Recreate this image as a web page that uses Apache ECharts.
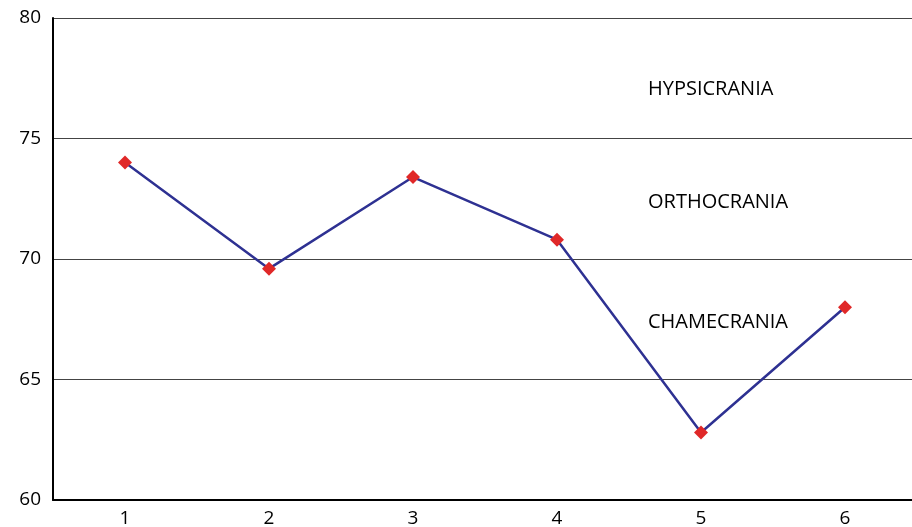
<!DOCTYPE html>
<html>
<head>
<meta charset="utf-8">
<script src="https://cdn.jsdelivr.net/npm/echarts@6/dist/echarts.min.js"></script>
<style>
html,body{margin:0;padding:0;background:#fff;}
#chart{width:912px;height:527px;}
</style>
</head>
<body>
<div id="chart"></div>
<script>
var categories = ['1', '2', '3', '4', '5', '6'];
var values = [74.0, 69.6, 73.4, 70.8, 62.8, 68.0];
var zoneNames = ['HYPSICRANIA', 'ORTHOCRANIA', 'CHAMECRANIA'];

var myChart = echarts.init(document.getElementById('chart'));
var font = '"Open Sans", "Noto Sans", sans-serif';

option = {
	animation: false,
	backgroundColor: '#fff',
	grid: {
		left: 53,
		width: 864,
		top: 18,
		bottom: 27,
		outerBoundsMode: 'none'
	},
	xAxis: {
		type: 'category',
		data: categories,
		boundaryGap: true,
		axisLine: { lineStyle: { color: '#000', width: 2 } },
		axisTick: { show: false },
		axisLabel: { color: '#000', fontSize: 19, fontFamily: font, margin: 9 }
	},
	yAxis: {
		type: 'value',
		min: 60,
		max: 80,
		interval: 5,
		axisLine: { show: true, lineStyle: { color: '#000', width: 2 } },
		axisTick: { show: false },
		axisLabel: { color: '#000', fontSize: 19, fontFamily: font, margin: 12 },
		splitLine: { lineStyle: { color: '#444', width: 1 } }
	},
	graphic: [
		{ type: 'text', left: 648, top: 79, style: { text: zoneNames[0], fill: '#000', font: '20px ' + font } },
		{ type: 'text', left: 648, top: 192, style: { text: zoneNames[1], fill: '#000', font: '20px ' + font } },
		{ type: 'text', left: 648, top: 312, style: { text: zoneNames[2], fill: '#000', font: '20px ' + font } }
	],
	series: [{
		type: 'line',
		data: values,
		symbol: 'diamond',
		symbolSize: 14,
		itemStyle: { color: '#e02828' },
		lineStyle: { color: '#2e3192', width: 2.5 }
	}]
};
myChart.setOption(option, true);
</script>
</body>
</html>
